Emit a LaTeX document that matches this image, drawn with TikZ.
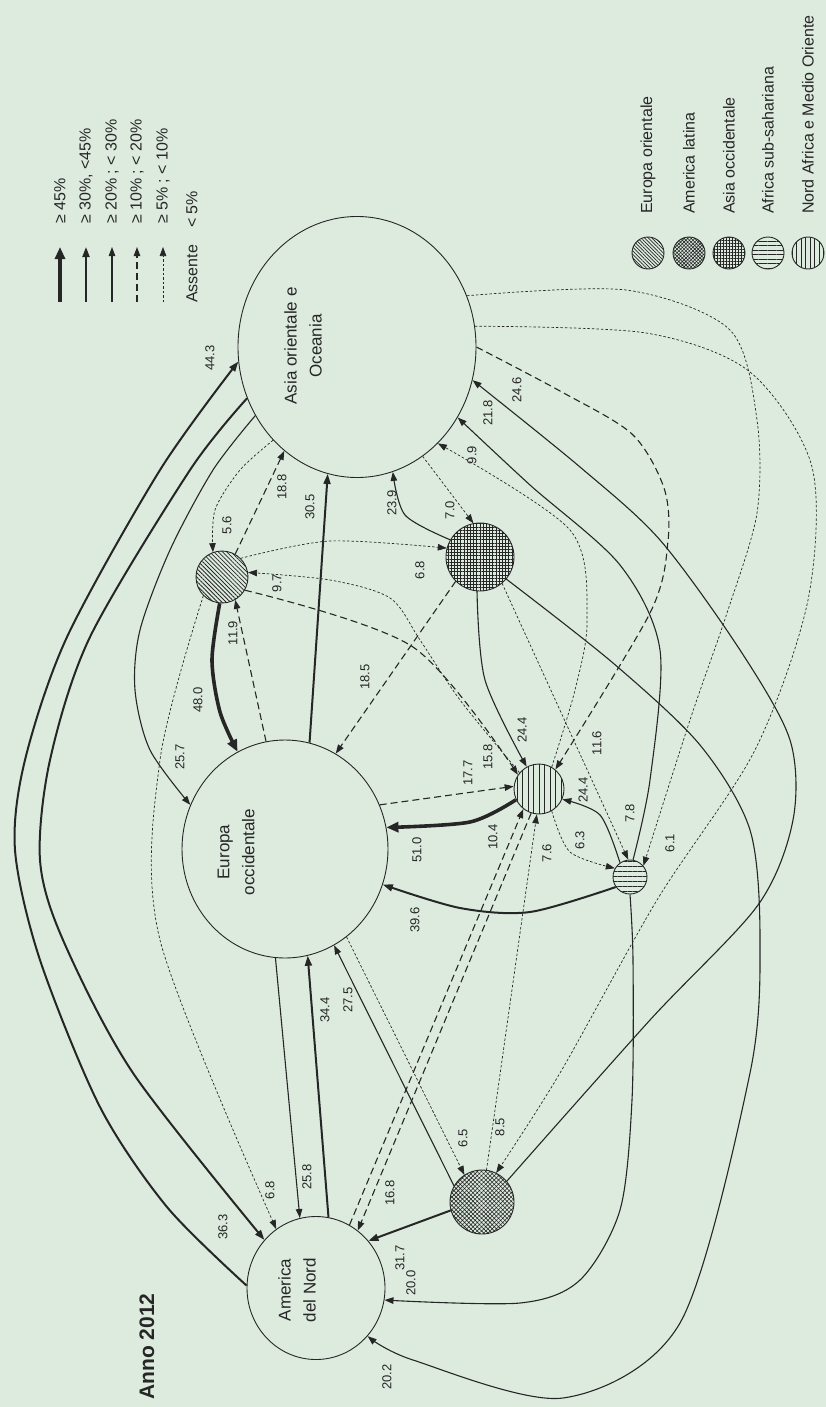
\documentclass[tikz,border=0pt]{standalone}
\usepackage{fontspec}
\setmainfont{Liberation Sans}
\usetikzlibrary{arrows.meta,shapes.geometric,patterns.meta}
\definecolor{bgmint}{HTML}{DDEBDF}
\definecolor{ink}{HTML}{262626}

\tikzset{
  region/.style={draw=ink,line width=0.9pt,ellipse,inner sep=0pt},
  minor/.style={draw=ink,line width=0.9pt,circle,inner sep=0pt,minimum size=#1},
  fl45/.style={draw=ink,line width=3.6pt,-{Triangle[length=12pt,width=10pt]}},
  fl30/.style={draw=ink,line width=2pt,-{Triangle[length=10pt,width=7pt]}},
  fl20/.style={draw=ink,line width=1.1pt,-{Triangle[length=9pt,width=6.5pt]}},
  fl10/.style={draw=ink,line width=1.1pt,dash pattern=on 7pt off 4pt,-{Triangle[length=9pt,width=6.5pt]}},
  fl5/.style={draw=ink,line width=0.7pt,dash pattern=on 2.5pt off 2pt,-{Triangle[length=9pt,width=6.5pt]}},
  val/.style={font=\fontsize{13}{15}\selectfont,rotate=90,inner sep=1pt,text=ink},
  rname/.style={font=\fontsize{17}{25}\selectfont,rotate=90,align=center,text=ink},
  keytext/.style={font=\fontsize{16}{18}\selectfont,rotate=90,anchor=west,inner sep=0pt,text=ink},
}

\begin{document}
\begin{tikzpicture}[x=1pt,y=-1pt]
  \fill[bgmint] (0,0) rectangle (826,1407);
  \useasboundingbox (0,0) rectangle (826,1407);

  % regions
  \node[region,minimum width=238pt,minimum height=261pt] (AO) at (357,347) {};
  \node[region,minimum width=206pt,minimum height=218pt] (EOcc) at (285,849) {};
  \node[region,minimum width=138pt,minimum height=143pt] (AN) at (316,1288) {};
  \node[minor=52pt,pattern={Lines[angle=-45,distance=3pt,line width=0.8pt]},pattern color=ink] (EOr) at (222,577) {};
  \node[minor=68pt,pattern={Hatch[angle=0,distance=3.2pt,line width=0.7pt]},pattern color=ink] (AsO) at (480,557) {};
  \node[minor=64pt,pattern={Hatch[angle=45,distance=3pt,line width=0.6pt]},pattern color=ink] (AmL) at (482,1202) {};
  \node[minor=50pt,pattern={Lines[angle=90,distance=5.5pt,line width=1pt]},pattern color=ink] (NAMO) at (539,789) {};
  \node[minor=34pt,pattern={Lines[angle=0,distance=5pt,line width=1pt]},pattern color=ink] (ASS) at (630,877) {};

  \node[rname] (tAO) at (303,346) {Asia orientale e\\Oceania};
  \node[rname] (tEOcc) at (236,852) {Europa\\occidentale};
  \node[rname] (tAN) at (297,1290) {America\\del Nord};

  % flows round the left side
  \draw[fl30] plot[smooth] coordinates {(AN.178) (167,1207) (100,1107) (40,960) (15,850) (25,760) (67,637) (160,470) (AO.187)};
  \draw[fl30] plot[smooth] coordinates {(AO.205) (190,470) (90,637) (50,760) (40,860) (63,940) (133,1073) (AN.137)};
  \draw[fl20] plot[smooth] coordinates {(AO.214) (213,470) (170,550) (140,630) (135,690) (150,750) (EOcc.155)};
  \draw[fl5] plot[smooth] coordinates {(AO.228) (240,470) (215,510) (EOr.110)};
  \draw[fl10] (EOr.60) -- (AO.235);
  \draw[fl30] (EOcc.77) -- (AO.257);
  \draw[fl45] plot[smooth] coordinates {(EOr.265) (212,660) (220,712) (EOcc.116)};
  \draw[fl10] (EOcc.100) -- (EOr.-60);
  \draw[fl5] plot[smooth] coordinates {(EOr.45) (330,541) (AsO.165)};
  \draw[fl5] plot[smooth] coordinates {(NAMO.140) (460,700) (420,640) (390,598) (330,580) (EOr.10)};
  \draw[fl10] plot[smooth] coordinates {(EOr.-30) (413,647) (NAMO.146)};
  \draw[fl5] plot[smooth] coordinates {(EOr.225) (160,760) (160,940) (AN.124)};

  % flows round Asia occidentale
  \draw[fl20] plot[smooth] coordinates {(AsO.150) (405,515) (AO.286)};
  \draw[fl5] (AO.301) -- (AsO.101);
  \draw[fl10] (AsO.225) -- (EOcc.62);
  \draw[fl20] plot[smooth] coordinates {(AsO.265) (485,680) (NAMO.119)};
  \draw[fl5] (AsO.-50) -- (ASS.96);
  \draw[fl20] plot[smooth] coordinates {(AsO.-40) (613,663) (700,745) (750,830) (760,940) (750,1073) (680,1323) (563,1398) (413,1360) (AN.317)};

  % flows round the right side
  \draw[fl5] plot[smooth] coordinates {(NAMO.60) (575,690) (587,620) (570,530) (AO.310)};
  \draw[fl10] plot[smooth] coordinates {(AO.0) (560,391) (632,434) (664,488) (668,541) (650,613) (NAMO.50)};
  \draw[fl5] plot[smooth] coordinates {(AO.10) (646,333) (750,372) (812,467) (808,600) (755,750) (657,900) (560,1073) (AmL.64)};
  \draw[fl5] plot[smooth] coordinates {(AO.25) (626,290) (730,330) (757,420) (757,513) (727,613) (690,720) (ASS.40)};
  \draw[fl20] plot[smooth] coordinates {(ASS.80) (650,780) (660,650) (620,565) (530,485) (AO.325)};
  \draw[fl20] plot[smooth] coordinates {(AmL.40) (650,1020) (758,905) (793,820) (790,740) (740,650) (660,540) (580,467) (AO.344)};

  % flows round Nord Africa and Africa sub-sahariana
  \draw[fl45] plot[smooth] coordinates {(NAMO.205) (470,822) (EOcc.12)};
  \draw[fl10] (EOcc.25) -- (NAMO.174);
  \draw[fl30] plot[smooth] coordinates {(ASS.215) (530,912) (460,908) (EOcc.340)};
  \draw[fl20] plot[smooth] coordinates {(ASS.125) (600,815) (NAMO.336)};
  \draw[fl5] plot[smooth] coordinates {(NAMO.-60) (570,852) (ASS.150)};
  \draw[fl20] plot[smooth] coordinates {(ASS.270) (633,960) (632,1100) (620,1210) (580,1280) (520,1303) (AN.350)};

  % flows round America del Nord
  \draw[fl20] (EOcc.265) -- (AN.103);
  \draw[fl30] (AN.80) -- (EOcc.-78);
  \draw[fl20] (AmL.150) -- (EOcc.-63);
  \draw[fl5] (EOcc.-55) -- (AmL.123);
  \draw[fl30] (AmL.195) -- (AN.42);
  \draw[fl10] (AN.62) -- (NAMO.232);
  \draw[fl10] (NAMO.252) -- (AN.54);
  \draw[fl5] (AmL.82) -- (NAMO.265);

  % values
  \node[val] (v1) at (210,358) {44.3};
  \node[val] (v2) at (223,1227) {36.3};
  \node[val] (v3) at (180,757) {25.7};
  \node[val] (v4) at (227,525) {5.6};
  \node[val] (v5) at (282,487) {18.8};
  \node[val] (v6) at (310,507) {30.5};
  \node[val] (v7) at (198,700) {48.0};
  \node[val] (v8) at (233,633) {11.9};
  \node[val] (v9) at (277,583) {9.7};
  \node[val] (v10) at (420,570) {6.8};
  \node[val] (v11) at (392,503) {23.9};
  \node[val] (v12) at (450,510) {7.0};
  \node[val] (v13) at (472,455) {9.9};
  \node[val] (v14) at (488,413) {21.8};
  \node[val] (v15) at (517,390) {24.6};
  \node[val] (v16) at (365,677) {18.5};
  \node[val] (v17) at (468,773) {17.7};
  \node[val] (v18) at (488,757) {15.8};
  \node[val] (v19) at (522,730) {24.4};
  \node[val] (v20) at (597,743) {11.6};
  \node[val] (v21) at (583,790) {24.4};
  \node[val] (v22) at (580,840) {6.3};
  \node[val] (v23) at (630,813) {7.8};
  \node[val] (v24) at (670,843) {6.1};
  \node[val] (v25) at (417,850) {51.0};
  \node[val] (v26) at (415,920) {39.6};
  \node[val] (v27) at (493,837) {10.4};
  \node[val] (v28) at (547,853) {7.6};
  \node[val] (v29) at (325,1010) {34.4};
  \node[val] (v30) at (348,1000) {27.5};
  \node[val] (v31) at (307,1177) {25.8};
  \node[val] (v32) at (270,1190) {6.8};
  \node[val] (v33) at (390,1193) {16.8};
  \node[val] (v34) at (463,1138) {6.5};
  \node[val] (v35) at (500,1127) {8.5};
  \node[val] (v36) at (400,1258) {31.7};
  \node[val] (v37) at (411,1283) {20.0};
  \node[val] (v38) at (387,1377) {20.2};

  % key of the arrows
  \foreach \s/\x [count=\i] in {fl45/60,fl30/86,fl20/112,fl10/137,fl5/163}{
    \coordinate (kt\i) at (\x,302);
    \coordinate (kh\i) at (\x,247);
    \draw[\s] (kt\i) -- (kh\i);
  }
  \node[keytext] (k1) at (60,224) {≥ 45\%};
  \node[keytext] (k2) at (86,224) {≥ 30\%, <45\%};
  \node[keytext] (k3) at (112,224) {≥ 20\% ; < 30\%};
  \node[keytext] (k4) at (137,224) {≥ 10\% ; < 20\%};
  \node[keytext] (k5) at (163,224) {≥ 5\% ; < 10\%};
  \node[keytext] (k6) at (192,303) {Assente};
  \node[keytext] (k7) at (192,228) {< 5\%};

  % key of the regions
  \node[minor=32pt,pattern={Lines[angle=-45,distance=2.5pt,line width=0.7pt]},pattern color=ink] (c1) at (648,253) {};
  \node[minor=32pt,pattern={Hatch[angle=45,distance=2.5pt,line width=0.6pt]},pattern color=ink] (c2) at (689,253) {};
  \node[minor=32pt,pattern={Hatch[angle=0,distance=3pt,line width=0.6pt]},pattern color=ink] (c3) at (729,253) {};
  \node[minor=32pt,pattern={Lines[angle=0,distance=4.5pt,line width=1pt]},pattern color=ink] (c4) at (768,253) {};
  \node[minor=32pt,pattern={Lines[angle=90,distance=4.5pt,line width=1pt]},pattern color=ink] (c5) at (808,253) {};
  \node[keytext] (n1) at (648,214) {Europa orientale};
  \node[keytext] (n2) at (689,214) {America latina};
  \node[keytext] (n3) at (729,214) {Asia occidentale};
  \node[keytext] (n4) at (768,214) {Africa sub-sahariana};
  \node[keytext] (n5) at (808,214) {Nord Africa e Medio Oriente};

  \node[keytext,font=\bfseries\fontsize{21}{24}\selectfont] (year) at (147,1400) {Anno 2012};
\end{tikzpicture}
\end{document}
